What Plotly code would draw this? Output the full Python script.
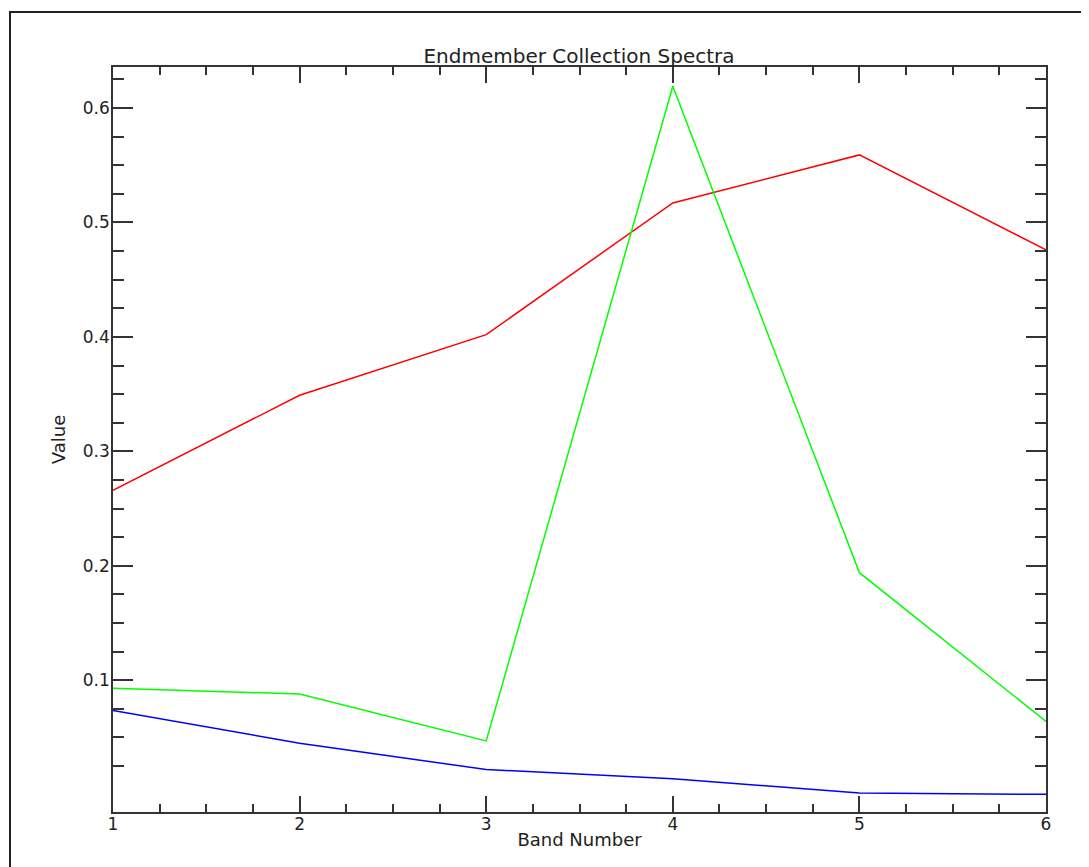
import numpy as np
import plotly.graph_objects as go

bands = [1, 2, 3, 4, 5, 6]
red_values = [0.266, 0.349, 0.402, 0.517, 0.559, 0.476]
green_values = [0.093, 0.088, 0.047, 0.619, 0.194, 0.064]
blue_values = [0.0735, 0.045, 0.022, 0.014, 0.0015, 0.0003]

y_major_ticks = [0.1, 0.2, 0.3, 0.4, 0.5, 0.6]
y_minor_ticks = [round(v, 3) for v in np.arange(0.025, 0.63, 0.025) if round(v, 3) not in y_major_ticks]
x_major_ticks = [1, 2, 3, 4, 5, 6]

title_text = "Endmember Collection Spectra"
x_title = "Band Number"
y_title = "Value"

# page has 8px body margin; figure coords = screen coords - 8
W, H = 1081, 859
ml, mt = 105, 59
mr = W - 1038
mb = H - 804

FONT = "DejaVu Sans"
TXT = "#222222"
AX = "#333333"

fig = go.Figure()
for vals, col in [(red_values, "#ff0000"), (green_values, "#00ff00"), (blue_values, "#0000ff")]:
    fig.add_trace(go.Scatter(x=bands, y=vals, mode="lines",
                             line=dict(color=col, width=1.5), showlegend=False))

pw = W - ml - mr
ph = H - mt - mb
# outer frame (left/top visible, right/bottom beyond the page)
fig.add_shape(type="rect", xref="paper", yref="paper",
              x0=(2 - ml) / pw, x1=(W + 20 - ml) / pw,
              y0=-(H + 20 - (H - mb)) / ph, y1=((H - mb) - 4) / ph,
              line=dict(color="#222222", width=2), layer="below")

fig.update_layout(
    width=W, height=H,
    margin=dict(l=ml, r=mr, t=mt, b=mb),
    paper_bgcolor="white", plot_bgcolor="white",
    font=dict(family=FONT, size=17, color=TXT),
    title=dict(text=title_text, x=571 / W, xanchor="center",
               y=1 - 48 / H, yanchor="middle",
               font=dict(family=FONT, size=20, color=TXT)),
    xaxis=dict(range=[1, 6], tickvals=x_major_ticks, ticktext=[str(v) for v in x_major_ticks],
               showgrid=False, zeroline=False,
               showline=True, linecolor=AX, linewidth=1.5, mirror="ticks",
               ticks="inside", ticklen=16, tickwidth=1.5, tickcolor=AX,
               ticklabelstandoff=-4,
               minor=dict(dtick=0.25, tick0=1, ticks="inside", ticklen=8, tickwidth=1.5, tickcolor=AX, showgrid=False),
               tickfont=dict(family=FONT, size=17, color=TXT),
               title=dict(text=x_title, standoff=0, font=dict(family=FONT, size=18, color=TXT))),
    yaxis=dict(range=[-0.0151, 0.6358], tickvals=y_major_ticks, ticktext=["%.1f" % v for v in y_major_ticks],
               showgrid=False, zeroline=False,
               showline=True, linecolor=AX, linewidth=1.5, mirror="ticks",
               ticks="inside", ticklen=20, tickwidth=1.5, tickcolor=AX,
               ticklabelstandoff=-2,
               minor=dict(tickmode="array", tickvals=y_minor_ticks, ticks="inside", ticklen=11, tickwidth=1.5, tickcolor=AX, showgrid=False),
               tickfont=dict(family=FONT, size=17, color=TXT),
               title=dict(text=y_title, standoff=13, font=dict(family=FONT, size=18, color=TXT))),
)

fig.write_html("out.html")
